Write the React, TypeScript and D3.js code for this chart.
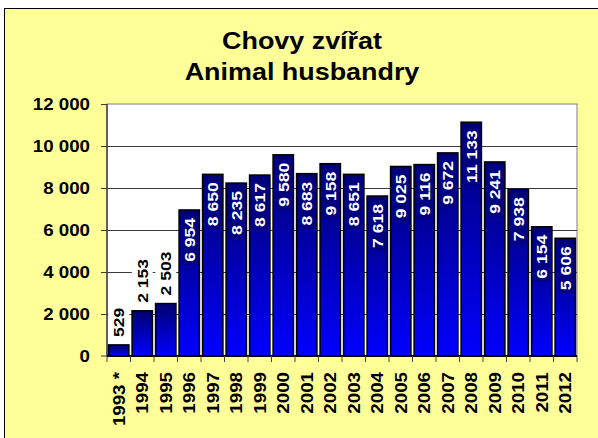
import React, { useEffect, useRef } from 'react';
import * as d3 from 'd3';

const years = ['1993 *', '1994', '1995', '1996', '1997', '1998', '1999', '2000', '2001', '2002',
  '2003', '2004', '2005', '2006', '2007', '2008', '2009', '2010', '2011', '2012'];
const herds = [529, 2153, 2503, 6954, 8650, 8235, 8617, 9580, 8683, 9158,
  8651, 7618, 9025, 9116, 9672, 11133, 9241, 7938, 6154, 5606];
const yTicks = [0, 2000, 4000, 6000, 8000, 10000, 12000];
const titleLines = ['Chovy zvířat', 'Animal husbandry'];

const FONT = '"Liberation Sans", Arial, sans-serif';
const SX = 1.17; // the original text is drawn horizontally stretched
const fmt = (v: number) => d3.format(',')(v).replace(/,/g, ' ');

const App = () => {
  const svgRef = useRef<SVGSVGElement>(null);

  useEffect(() => {
    if (!svgRef.current) return;
    const width = 598, height = 438;
    const left = 107, right = 577, top = 104, bottom = 356;

    const svg = d3.select(svgRef.current).attr('width', width).attr('height', height);
    svg.selectAll('*').remove();

    const grad = svg.append('defs').append('linearGradient')
      .attr('id', 'barGrad').attr('x1', 0).attr('y1', 0).attr('x2', 0).attr('y2', 1);
    grad.append('stop').attr('offset', '0%').attr('stop-color', '#000070');
    grad.append('stop').attr('offset', '100%').attr('stop-color', '#0000ff');

    // background frame
    svg.append('rect').attr('x', 0).attr('y', 0).attr('width', width).attr('height', height).attr('fill', '#fff');
    svg.append('rect').attr('x', 4.5).attr('y', 8.5).attr('width', width + 10).attr('height', height + 10)
      .attr('fill', '#ffff99').attr('stroke', '#000').attr('stroke-width', 1);

    // title
    titleLines.forEach((line, i) => {
      svg.append('text')
        .attr('transform', `translate(302,${49 + i * 30.5}) scale(${SX},1)`)
        .attr('text-anchor', 'middle')
        .attr('font-family', FONT).attr('font-weight', 'bold').attr('font-size', 23)
        .text(line);
    });

    const x = d3.scaleBand().domain(years).range([left, right]).paddingInner(0.07).paddingOuter(0.035);
    const y = d3.scaleLinear().domain([0, 12000]).range([bottom, top]);

    // plot area
    svg.append('rect').attr('x', left).attr('y', top).attr('width', right - left).attr('height', bottom - top)
      .attr('fill', '#fff').attr('stroke', '#808080').attr('stroke-width', 1);

    // gridlines + left ticks
    svg.append('g').selectAll('line').data(yTicks.filter(t => t > 0 && t < 12000)).enter().append('line')
      .attr('x1', 101).attr('x2', right)
      .attr('y1', d => Math.round(y(d)) + 0.5).attr('y2', d => Math.round(y(d)) + 0.5)
      .attr('stroke', '#3a3a3a').attr('stroke-width', 1);
    svg.append('line').attr('x1', 101).attr('x2', left).attr('y1', Math.round(y(12000)) + 0.5).attr('y2', Math.round(y(12000)) + 0.5)
      .attr('stroke', '#3a3a3a');
    svg.append('line').attr('x1', 101).attr('x2', left).attr('y1', bottom).attr('y2', bottom).attr('stroke', '#3a3a3a');

    svg.append('g').selectAll('text').data(yTicks).enter().append('text')
      .attr('transform', d => `translate(90,${y(d)}) scale(${SX},1)`)
      .attr('dy', '0.36em')
      .attr('text-anchor', 'end')
      .attr('font-family', FONT).attr('font-weight', 'bold').attr('font-size', 16)
      .text(d => fmt(d));

    // left axis
    svg.append('line').attr('x1', left).attr('x2', left).attr('y1', top).attr('y2', bottom)
      .attr('stroke', '#404040').attr('stroke-width', 1.5);

    // bars
    const bw = x.bandwidth();
    svg.append('g').selectAll('rect').data(herds).enter().append('rect')
      .attr('x', (d, i) => (x(years[i]) as number) + 0.75)
      .attr('y', d => y(d))
      .attr('width', bw - 1.5)
      .attr('height', d => bottom - y(d))
      .attr('fill', 'url(#barGrad)')
      .attr('stroke', '#000').attr('stroke-width', 1.5);

    // bottom axis + ticks
    svg.append('line').attr('x1', left).attr('x2', right).attr('y1', bottom).attr('y2', bottom)
      .attr('stroke', '#000').attr('stroke-width', 2);
    const step = x.step();
    svg.append('g').selectAll('line').data(d3.range(years.length + 1)).enter().append('line')
      .attr('x1', i => left + i * step).attr('x2', i => left + i * step)
      .attr('y1', bottom).attr('y2', 362)
      .attr('stroke', '#404040').attr('stroke-width', 1);

    // category labels
    svg.append('g').selectAll('text').data(years).enter().append('text')
      .attr('transform', d => `translate(${(x(d) as number) + bw / 2},372) rotate(-90) scale(${SX},1)`)
      .attr('dy', '0.36em')
      .attr('text-anchor', 'end')
      .attr('font-family', FONT).attr('font-weight', 'bold').attr('font-size', 16)
      .text(d => d);

    // data labels
    const labels = svg.append('g');
    herds.forEach((v, i) => {
      const cx = (x(years[i]) as number) + bw / 2;
      const barTop = y(v);
      const g = labels.append('g');
      const box = g.append('rect');
      const t = g.append('text')
        .attr('dy', '0.36em')
        .attr('font-family', FONT).attr('font-weight', 'bold').attr('font-size', 15)
        .text(fmt(v));
      const len = (t.node() as SVGTextElement).getComputedTextLength() * SX;
      const inside = bottom - barTop > len + 16;
      if (inside) {
        const yEnd = barTop + 8;
        t.attr('text-anchor', 'end').attr('fill', '#fff')
          .attr('transform', `translate(${cx},${yEnd}) rotate(-90) scale(${SX},1)`);
        box.attr('x', cx - bw / 2 + 3).attr('width', bw - 6)
          .attr('y', yEnd - 4).attr('height', len + 7).attr('fill', '#000080');
      } else {
        const yStart = barTop - 8;
        t.attr('text-anchor', 'start').attr('fill', '#000')
          .attr('transform', `translate(${cx},${yStart}) rotate(-90) scale(${SX},1)`);
        box.attr('x', cx - bw / 2 + 0.5).attr('width', bw - 1)
          .attr('y', yStart - len - 5).attr('height', len + 12).attr('fill', '#fff');
      }
    });
  }, []);

  return (
    <div style={{ position: 'absolute', left: 0, top: 0 }}>
      <svg ref={svgRef}></svg>
    </div>
  );
};

export default App;
